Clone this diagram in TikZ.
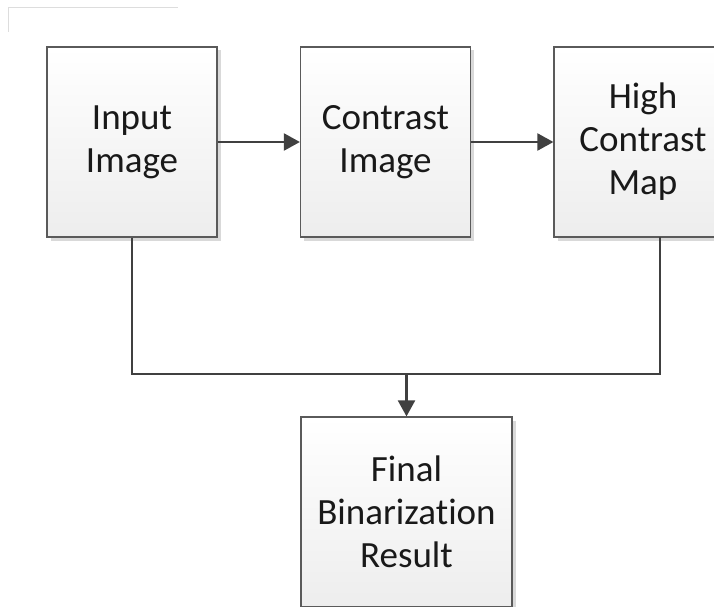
\documentclass[tikz,border=0pt]{standalone}
\usepackage{fontspec}
\setmainfont[Ligatures=NoCommon]{Carlito}
\usetikzlibrary{arrows.meta,shadows}
\definecolor{edgegray}{HTML}{5A5A5A}
\definecolor{linegray}{HTML}{404040}
\definecolor{shadegray}{HTML}{D9D9D9}
\definecolor{framegray}{HTML}{DDDDDD}
\tikzset{
  box/.style={draw=edgegray, line width=1.2pt, top color=white, bottom color=black!7,
    align=center, inner sep=0pt, font=\fontsize{37}{43}\selectfont, text=black!90,
    drop shadow={shadow xshift=3.5pt, shadow yshift=-3.5pt, fill=shadegray, opacity=1}},
  conn/.style={draw=linegray, line width=2.2pt},
  arr/.style={conn, -{Triangle[length=16pt,width=17pt]}},
}
\begin{document}
\begin{tikzpicture}[x=1pt,y=-1pt]
\useasboundingbox (0,0) rectangle (714,607);
\clip (0,0) rectangle (714,607);
% faint frame at top left
\draw[framegray, line width=0.8pt] (8,32) -- (8,7) -- (178,7);
\node[box, minimum width=170pt, minimum height=190pt] (in) at (132,142) {Input\\Image};
\node[box, minimum width=170pt, minimum height=190pt] (ci) at (385.5,142) {Contrast\\Image};
\node[box, minimum width=178pt, minimum height=190pt] (hc) at (643,142) {High\\Contrast\\Map};
\node[box, minimum width=211pt, minimum height=190pt] (fb) at (406.5,512) {Final\\Binarization\\Result};
\coordinate (hcb) at (660,237);
\coordinate (join) at (406.5,374);
\draw[arr] (in.east) -- (ci.west);
\draw[arr] (ci.east) -- (hc.west);
\draw[conn] (in.south) |- (join) -| (hcb);
\draw[arr] (join) -- (fb.north);
\end{tikzpicture}
\end{document}
